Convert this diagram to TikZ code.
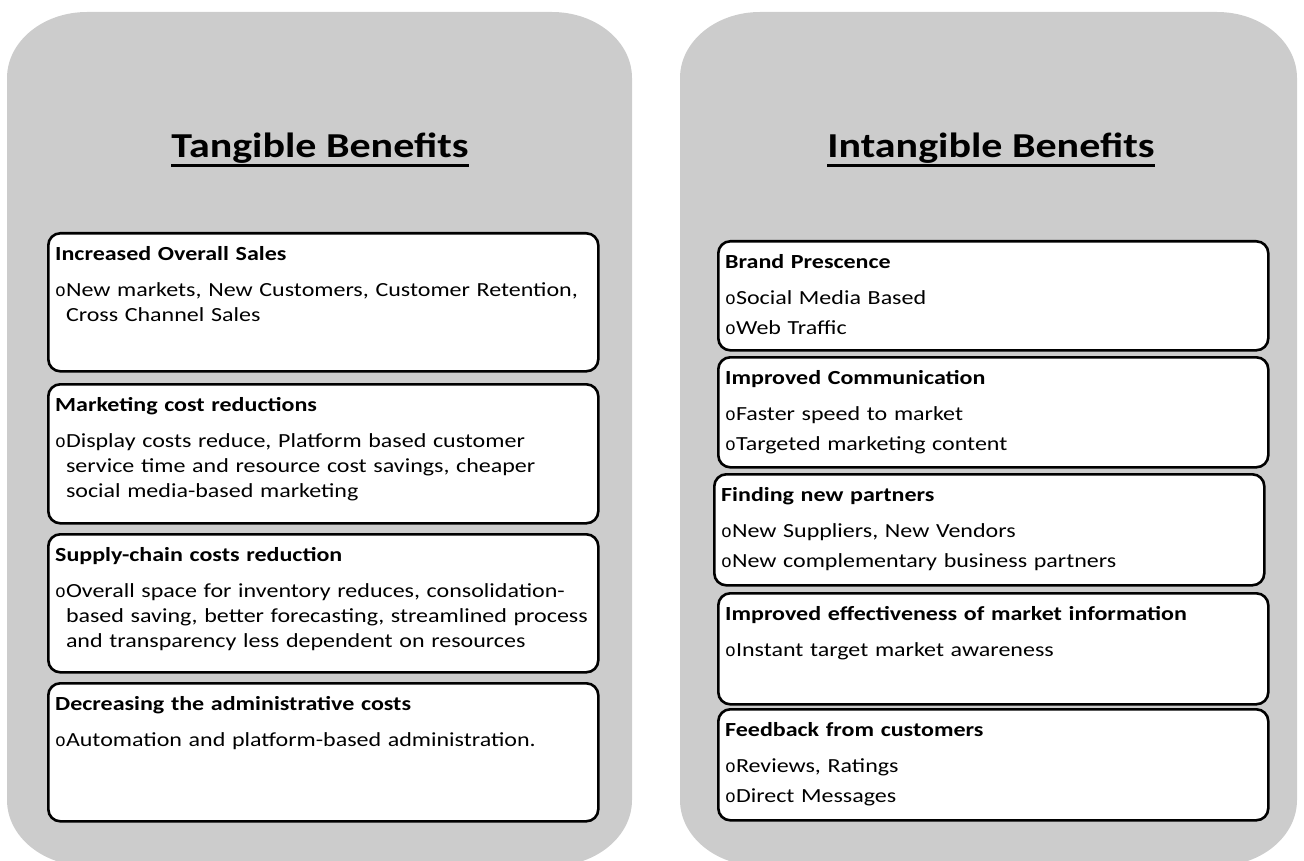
\documentclass[tikz,border=0pt]{standalone}
\usepackage{fontspec}
\setmainfont{Carlito}[FakeStretch=1.2]
\newfontfamily\bulletfont{Liberation Mono}
\definecolor{panelgray}{RGB}{204,204,204}

% hollow "o" bullet, wrapped lines sit under the text, not under the bullet
\newlength\bulletwd
\newcommand\bulletmark{{\bulletfont\fontsize{18}{18}\selectfont o}}
\newcommand\bul[1]{\par\settowidth{\bulletwd}{\bulletmark}%
  \noindent\bulletmark\parbox[t]{\dimexpr 548pt-\bulletwd\relax}{\raggedright #1}}
\newcommand\boxhead[1]{\textbf{#1}\par\vspace{6pt}}

\begin{document}
\begin{tikzpicture}[x=1pt, y=-1pt,
  benefitbox/.style={draw, line width=2.6pt, rounded corners=12pt, fill=white,
    anchor=north west, inner sep=0pt, minimum width=550pt},
  benefittext/.style={anchor=north west, inner sep=0pt, text width=548pt, align=left,
    font=\fontsize{20}{25}\selectfont\setlength{\parskip}{5pt}\setlength{\parindent}{0pt}},
  paneltitle/.style={anchor=base, inner sep=0pt, font=\fontsize{35}{42}\selectfont\bfseries}]

  \useasboundingbox (0,0) rectangle (1304,861);

  % two grey backing panels, corners a little wider than tall
  \foreach \xa/\xb in {7/632, 680/1297} {
    \fill[panelgray] (\xa,78) arc[start angle=180, end angle=90, x radius=80pt, y radius=66pt]
      -- (\xb-80,12) arc[start angle=90, end angle=0, x radius=80pt, y radius=66pt]
      -- (\xb,800) arc[start angle=0, end angle=-90, x radius=80pt, y radius=66pt]
      -- (\xa+80,866) arc[start angle=270, end angle=180, x radius=80pt, y radius=66pt]
      -- cycle;
  }

  % headings, underlined by hand
  \node[paneltitle] (ttitle) at (320,158) {Tangible Benefits};
  \node[paneltitle] (ititle) at (991,158) {Intangible Benefits};
  \foreach \t in {ttitle, ititle}
    \draw[line width=3pt] ([yshift=-7.5pt]\t.base west) -- ([yshift=-7.5pt]\t.base east);

  % tangible column
  \node[benefitbox, minimum height=138pt] (tb1) at (47,232) {};
  \node[benefitbox, minimum height=139pt] (tb2) at (47,383) {};
  \node[benefitbox, minimum height=138pt] (tb3) at (47,533) {};
  \node[benefitbox, minimum height=138pt] (tb4) at (47,682) {};

  \node[benefittext] (tb1-txt) at ([xshift=8pt,yshift=-14pt]tb1.north west)
    {\boxhead{Increased Overall Sales}%
     \bul{New markets, New Customers, Customer Retention,\\ Cross Channel Sales}};
  \node[benefittext] (tb2-txt) at ([xshift=8pt,yshift=-14pt]tb2.north west)
    {\boxhead{Marketing cost reductions}%
     \bul{Display costs reduce, Platform based customer\\ service time and resource cost savings, cheaper\\ social media-based marketing}};
  \node[benefittext] (tb3-txt) at ([xshift=8pt,yshift=-14pt]tb3.north west)
    {\boxhead{Supply-chain costs reduction}%
     \bul{Overall space for inventory reduces, consolidation-\\ based saving, better forecasting, streamlined process\\ and transparency less dependent on resources}};
  \node[benefittext] (tb4-txt) at ([xshift=8pt,yshift=-14pt]tb4.north west)
    {\boxhead{Decreasing the administrative costs}%
     \bul{Automation and platform-based administration.}};

  % intangible column
  \node[benefitbox, minimum height=109pt] (ib1) at (717,240) {};
  \node[benefitbox, minimum height=110pt] (ib2) at (717,356) {};
  \node[benefitbox, minimum height=111pt] (ib3) at (713,473) {};
  \node[benefitbox, minimum height=111pt] (ib4) at (717,592) {};
  \node[benefitbox, minimum height=111pt] (ib5) at (717,708) {};

  \node[benefittext] (ib1-txt) at ([xshift=8pt,yshift=-14pt]ib1.north west)
    {\boxhead{Brand Prescence}\bul{Social Media Based}\bul{Web Traffic}};
  \node[benefittext] (ib2-txt) at ([xshift=8pt,yshift=-14pt]ib2.north west)
    {\boxhead{Improved Communication}\bul{Faster speed to market}\bul{Targeted marketing content}};
  \node[benefittext] (ib3-txt) at ([xshift=8pt,yshift=-14pt]ib3.north west)
    {\boxhead{Finding new partners}\bul{New Suppliers, New Vendors}\bul{New complementary business partners}};
  \node[benefittext] (ib4-txt) at ([xshift=8pt,yshift=-14pt]ib4.north west)
    {\boxhead{Improved effectiveness of market information}\bul{Instant target market awareness}};
  \node[benefittext] (ib5-txt) at ([xshift=8pt,yshift=-14pt]ib5.north west)
    {\boxhead{Feedback from customers}\bul{Reviews, Ratings}\bul{Direct Messages}};
\end{tikzpicture}
\end{document}
